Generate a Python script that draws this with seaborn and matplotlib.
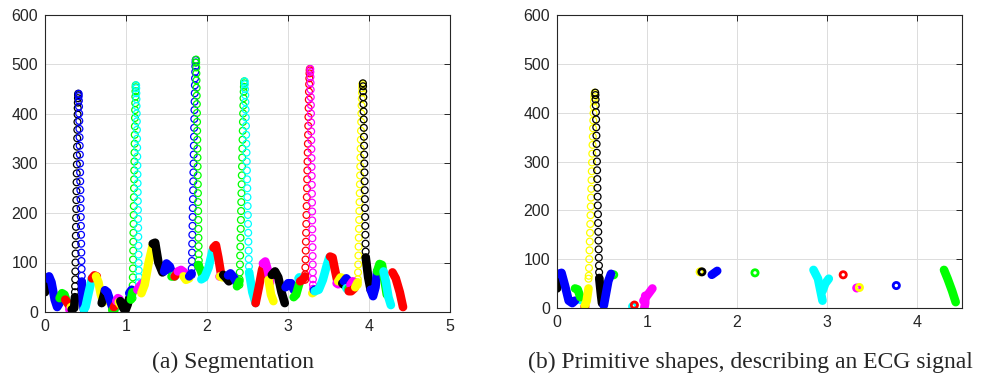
import numpy as np
import matplotlib
matplotlib.use("Agg")
import matplotlib.pyplot as plt
import seaborn as sns

sns.set_style("white")
plt.rcParams["font.family"] = ["Liberation Sans", "DejaVu Sans"]

# MATLAB short colour names
COLORS = {"b": "#0000ff", "k": "#000000", "g": "#00ff00", "r": "#ff0000",
          "m": "#ff00ff", "y": "#ffff00", "c": "#00ffff"}

# ---- (a) segmentation: slow parts of the ECG, one colour per segment ----
left_seg_col = ["k", "b", "g", "r", "m", "y", "k", "b", "c", "r", "y", "k", "b", "g",
                "r", "m", "y", "k", "b", "g", "m", "y", "k", "b", "g", "c", "r", "m",
                "y", "b", "g", "c", "r", "m", "y", "k", "b", "g", "c", "r", "m", "y",
                "k", "b", "g", "c", "r", "y", "b", "c", "r", "m", "y", "k", "b", "c",
                "g", "m", "r", "y", "k", "b", "g", "c", "r"]
left_seg_x = [
    [0.0, 0.01, 0.02], [0.02, 0.05, 0.08, 0.12, 0.15, 0.18], [0.18, 0.21, 0.24, 0.27],
    [0.25, 0.28, 0.30], [0.30, 0.32], [0.32, 0.35], [0.33, 0.36, 0.37],
    [0.455, 0.47, 0.48], [0.48, 0.5, 0.54, 0.58], [0.58, 0.61, 0.64],
    [0.63, 0.66, 0.69, 0.72], [0.70, 0.72, 0.74], [0.74, 0.77, 0.80, 0.83],
    [0.83, 0.86], [0.85, 0.88, 0.90], [0.88, 0.90, 0.92], [0.91, 0.93],
    [0.93, 0.96, 0.99, 1.02, 1.04], [1.04, 1.07], [1.06, 1.08],
    [1.14, 1.17, 1.2], [1.19, 1.23, 1.28, 1.33], [1.33, 1.36, 1.40, 1.45],
    [1.47, 1.50, 1.54, 1.57], [1.56, 1.59], [1.59, 1.61], [1.60, 1.63, 1.66],
    [1.64, 1.68, 1.72], [1.71, 1.74, 1.78], [1.78, 1.81], [1.89, 1.92, 1.95],
    [1.93, 1.97, 2.02, 2.07], [2.08, 2.11, 2.14, 2.17], [2.15, 2.16], [2.16, 2.19],
    [2.2, 2.23, 2.27], [2.26, 2.29, 2.33, 2.37], [2.37, 2.40], [2.52, 2.56, 2.6],
    [2.6, 2.64, 2.68, 2.71], [2.69, 2.72, 2.75, 2.78], [2.76, 2.79, 2.82],
    [2.80, 2.84, 2.88, 2.92, 2.96], [2.97, 3.0, 3.04, 3.07], [3.07, 3.10, 3.14],
    [3.13, 3.14], [3.15, 3.18, 3.21], [3.30, 3.32], [3.32, 3.33],
    [3.33, 3.38, 3.43, 3.48, 3.51], [3.52, 3.55, 3.58, 3.61], [3.60, 3.62],
    [3.62, 3.65, 3.68], [3.67, 3.69], [3.69, 3.72, 3.75], [3.72, 3.74],
    [3.74, 3.75], [3.77, 3.80, 3.83], [3.75, 3.78, 3.82], [3.83, 3.86],
    [3.96, 3.99, 4.02], [4.02, 4.05, 4.08, 4.1], [4.1, 4.13, 4.16, 4.19, 4.22],
    [4.18, 4.21, 4.24, 4.27], [4.29, 4.33, 4.38, 4.42]]
left_seg_y = [
    [40, 55, 68], [68, 72, 60, 25, 10, 18], [28, 38, 35, 20],
    [25, 18, 12], [5, 2], [10, 12], [5, 8, 30],
    [60, 15, 5], [5, 10, 40, 68], [68, 74, 72],
    [72, 60, 35, 20], [18, 30, 42], [44, 40, 25, 10],
    [4, 5], [10, 18, 22], [22, 28, 26], [20, 15],
    [22, 10, 2, 15, 28], [38, 45], [25, 40],
    [45, 52, 58], [38, 55, 100, 135], [138, 140, 100, 80],
    [82, 98, 92, 78], [72, 72], [74, 74], [72, 78, 82],
    [82, 85, 80], [72, 65, 68], [72, 78], [95, 85, 72],
    [66, 70, 90, 125], [130, 135, 110, 80], [72, 72], [72, 70],
    [75, 70, 62], [74, 78, 70, 58], [52, 62], [80, 40, 18],
    [18, 50, 85, 98], [98, 102, 85, 60], [65, 35, 22],
    [75, 82, 70, 40, 18], [50, 58, 58, 45], [30, 35, 58],
    [68, 70], [62, 65, 72], [38, 40], [44, 45],
    [42, 45, 65, 95, 110], [112, 110, 85, 62], [58, 56],
    [62, 70, 68], [58, 55], [62, 68, 62], [48, 45],
    [48, 48], [55, 62, 60], [42, 42, 48], [50, 60],
    [110, 70, 45], [45, 32, 50, 82], [82, 97, 95, 65, 35],
    [82, 60, 30, 14], [80, 68, 40, 10]]

# QRS spikes: samples on the up stroke and the down stroke
spk_up_col = ["k", "g", "b", "g", "r", "y"]
spk_dn_col = ["b", "c", "g", "c", "m", "k"]
spk_up_t = [(0.37, 0.41), (1.08, 1.12), (1.81, 1.86), (2.40, 2.46), (3.21, 3.27), (3.86, 3.92)]
spk_dn_t = [(0.415, 0.455), (1.125, 1.16), (1.865, 1.90), (2.465, 2.52), (3.275, 3.31), (3.925, 3.96)]
spk_up_y = [
    [40, 52, 66, 82, 100, 118, 136, 154, 172, 190, 208, 226, 244, 262, 280, 298, 316, 334,
     351, 368, 384, 399, 412, 423, 432, 438, 441],
    [28, 40, 54, 70, 88, 106, 124, 142, 160, 178, 196, 214, 232, 250, 268, 286, 304, 322,
     340, 358, 375, 392, 408, 422, 435, 446, 454, 458],
    [75, 88, 103, 120, 138, 156, 174, 192, 210, 228, 246, 264, 282, 300, 318, 336, 354, 372,
     390, 408, 425, 442, 458, 472, 485, 496, 504, 509],
    [55, 66, 80, 96, 114, 132, 150, 168, 186, 204, 222, 240, 258, 276, 294, 312, 330, 348,
     366, 384, 401, 417, 432, 445, 455, 462, 466],
    [65, 76, 90, 106, 124, 142, 160, 178, 196, 214, 232, 250, 268, 286, 304, 322, 340, 358,
     376, 394, 412, 429, 445, 460, 472, 482, 488, 491],
    [55, 66, 80, 96, 114, 132, 150, 168, 186, 204, 222, 240, 258, 276, 294, 312, 330, 348,
     366, 384, 401, 417, 431, 443, 452, 458, 461]]
spk_dn_y = [
    [441, 436, 427, 415, 401, 386, 370, 353, 336, 318, 300, 282, 264, 246, 228, 210, 192,
     174, 156, 138, 120, 103, 87, 73, 62],
    [458, 452, 442, 430, 416, 401, 385, 368, 350, 332, 314, 296, 278, 260, 242, 224, 206,
     188, 170, 152, 134, 116, 99, 84, 71, 60],
    [510, 504, 494, 482, 468, 453, 437, 420, 402, 384, 366, 348, 330, 312, 294, 276, 258,
     240, 222, 204, 186, 168, 150, 133, 117, 104, 95],
    [466, 460, 450, 438, 424, 409, 393, 376, 358, 340, 322, 304, 286, 268, 250, 232, 214,
     196, 178, 160, 142, 124, 107, 92, 80],
    [491, 485, 475, 463, 449, 434, 418, 401, 383, 365, 347, 329, 311, 293, 275, 257, 239,
     221, 203, 185, 167, 149, 131, 113, 96, 80, 66, 55, 47],
    [462, 456, 446, 434, 420, 405, 389, 372, 354, 336, 318, 300, 282, 264, 246, 228, 210,
     192, 174, 156, 138, 122, 110]]

# ---- (b) primitive shapes ----
right_seg_col = ["k", "b", "g", "y", "k", "b", "m", "m", "b", "c", "c", "g"]
right_seg_x = [[0.0, 0.01, 0.01], [0.02, 0.05, 0.09, 0.13, 0.17, 0.2], [0.2, 0.23, 0.26],
               [0.31, 0.33, 0.35], [0.47, 0.49, 0.5], [0.52, 0.54, 0.57, 0.6],
               [0.97, 0.98, 0.98], [0.96, 1.0, 1.06], [1.72, 1.78],
               [2.85, 2.9, 2.95], [2.95, 2.98, 3.02], [4.3, 4.34, 4.39, 4.43]]
right_seg_y = [[40, 55, 68], [70, 72, 45, 15, 10, 15], [40, 38, 22],
               [5, 15, 40], [60, 25, 10], [5, 25, 55, 70],
               [0, 10, 25], [15, 25, 40], [68, 76],
               [78, 60, 15], [35, 50, 60], [78, 60, 35, 12]]
ring_col = ["c", "r", "g", "c", "r", "y", "k", "g", "r", "m", "y", "b"]
ring_x = [0.26, 0.31, 0.63, 0.84, 0.86, 1.59, 1.61, 2.2, 3.18, 3.33, 3.36, 3.77]
ring_y = [17, 3, 68, 3, 6, 74, 74, 72, 68, 41, 42, 46]
right_spk_col = ("y", "k")
right_spk_t = [(0.35, 0.42), (0.425, 0.47)]

W, H = 982, 376
fig = plt.figure(figsize=(W / 100, H / 100), dpi=100)
ax1 = fig.add_axes([45 / W, 1 - 312 / H, 405 / W, 297 / H])
ax2 = fig.add_axes([557 / W, 1 - 308 / H, 405 / W, 293 / H])


def solid(ax, xs, ys, c):
    sns.lineplot(x=xs, y=ys, ax=ax, color=COLORS[c], lw=6.2, sort=False, estimator=None,
                 solid_capstyle="round", solid_joinstyle="round", legend=False)


def circles(ax, t, ys, c):
    ts = np.linspace(t[0], t[1], len(ys))
    sns.scatterplot(x=ts, y=ys, ax=ax, marker="o", s=24, color=COLORS[c],
                    facecolors="none", edgecolor=COLORS[c], linewidth=0.9, legend=False)


for c, xs, ys in zip(left_seg_col, left_seg_x, left_seg_y):
    solid(ax1, xs, ys, c)
for i in range(len(spk_up_y)):
    circles(ax1, spk_up_t[i], spk_up_y[i], spk_up_col[i])
    circles(ax1, spk_dn_t[i], spk_dn_y[i], spk_dn_col[i])

for c, xs, ys in zip(right_seg_col, right_seg_x, right_seg_y):
    solid(ax2, xs, ys, c)
circles(ax2, right_spk_t[0], [60] + spk_up_y[0][2:], right_spk_col[0])
circles(ax2, right_spk_t[1], spk_dn_y[0], right_spk_col[1])
for c, x, y in zip(ring_col, ring_x, ring_y):
    sns.scatterplot(x=[x], y=[y], ax=ax2, marker="o", s=20, color=COLORS[c],
                    facecolors="none", edgecolor=COLORS[c], linewidth=2.0, legend=False)

for ax, xmax, xt in [(ax1, 5, range(0, 6)), (ax2, 4.5, range(0, 5))]:
    ax.set_xlim(0, xmax)
    ax.set_ylim(0, 600)
    ax.set_xticks(list(xt))
    ax.set_yticks(range(0, 601, 100))
    ax.grid(True, color="#dcdcdc", lw=0.7)
    ax.set_axisbelow(True)
    for s in ax.spines.values():
        s.set_visible(True)
        s.set_color("#262626")
        s.set_linewidth(0.8)
    ax.tick_params(direction="in", length=4, width=0.7, top=True, right=True,
                   labelsize=11.5, labelcolor="#262626", color="#262626", pad=5)
    ax.set_xlabel("")
    ax.set_ylabel("")

fig.text(233 / W, 1 - 362 / H, "(a) Segmentation", ha="center", va="center",
         family="Liberation Serif", fontsize=17)
fig.text(750 / W, 1 - 362 / H, "(b) Primitive shapes, describing an ECG signal",
         ha="center", va="center", family="Liberation Serif", fontsize=17)

fig.savefig("out.png", dpi=100)
